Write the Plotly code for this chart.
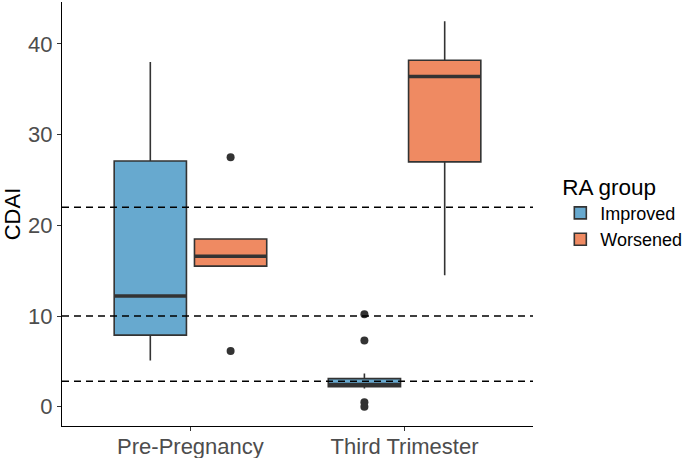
import plotly.graph_objects as go

# ---- data ----
categories = ["Pre-Pregnancy", "Third Trimester"]
groups = ["Improved", "Worsened"]
colors = {"Improved": "#67A9CF", "Worsened": "#EF8A62"}

improved_lower = [5.1, 2.0]
improved_q1 = [7.9, 2.2]
improved_median = [12.2, 2.45]
improved_q3 = [27.1, 3.1]
improved_upper = [38.0, 3.65]
improved_outliers = [[], [10.2, 7.3, 0.5, 0.0]]

worsened_lower = [15.5, 14.5]
worsened_q1 = [15.5, 27.0]
worsened_median = [16.6, 36.4]
worsened_q3 = [18.5, 38.2]
worsened_upper = [18.5, 42.5]
worsened_outliers = [[27.5, 6.15], []]

reference_lines = [2.8, 10, 22]

stats = {
    "Improved": dict(lower=improved_lower, q1=improved_q1, median=improved_median,
                     q3=improved_q3, upper=improved_upper, out=improved_outliers),
    "Worsened": dict(lower=worsened_lower, q1=worsened_q1, median=worsened_median,
                     q3=worsened_q3, upper=worsened_upper, out=worsened_outliers),
}

# ggplot-like dodge
dodge = 0.75
slot = dodge / len(groups)
box_w = slot * 0.9
cat_pos = [i + 1 for i in range(len(categories))]

fig = go.Figure()
font_family = "Liberation Sans, Arial, sans-serif"

for gi, g in enumerate(groups):
    s = stats[g]
    xs = [p - dodge / 2 + slot * (gi + 0.5) for p in cat_pos]
    fig.add_trace(go.Box(
        name=g, x=xs, q1=s["q1"], median=s["median"], q3=s["q3"],
        lowerfence=s["lower"], upperfence=s["upper"],
        width=box_w, whiskerwidth=0, fillcolor=colors[g],
        line=dict(color="#333333", width=1.6), boxpoints=False,
        hoverinfo="skip", showlegend=True,
    ))
    # thicker median lines (ggplot fatten)
    for x, m in zip(xs, s["median"]):
        fig.add_trace(go.Scatter(
            x=[x - box_w / 2, x + box_w / 2], y=[m, m], mode="lines",
            line=dict(color="#333333", width=3.5), showlegend=False, hoverinfo="skip",
        ))
    # outliers
    ox, oy = [], []
    for x, outs in zip(xs, s["out"]):
        for v in outs:
            ox.append(x)
            oy.append(v)
    fig.add_trace(go.Scatter(
        x=ox, y=oy, mode="markers",
        marker=dict(color="#333333", size=8), showlegend=False, hoverinfo="skip",
    ))

for v in reference_lines:
    fig.add_shape(type="line", xref="paper", x0=0, x1=1, yref="y", y0=v, y1=v,
                  line=dict(color="black", width=1.5, dash="7px,5px"), layer="above")

all_vals = (improved_lower + improved_upper + worsened_lower + worsened_upper
            + [v for o in improved_outliers + worsened_outliers for v in o])
lo, hi = min(all_vals), max(all_vals)
span = hi - lo

fig.update_layout(
    width=685, height=458,
    margin=dict(l=62, r=152, t=2, b=32, autoexpand=False),
    paper_bgcolor="white", plot_bgcolor="white",
    boxmode="overlay",
    font=dict(family=font_family, color="black"),
    legend=dict(
        title=dict(text="RA group", font=dict(size=22.5, color="black")),
        font=dict(size=18, color="black"),
        x=1.058, xanchor="left", y=0.505, yanchor="middle",
        tracegroupgap=0, itemwidth=30,
    ),
    xaxis=dict(
        range=[cat_pos[0] - 0.6, cat_pos[-1] + 0.6],
        tickvals=cat_pos, ticktext=categories,
        showline=True, linecolor="black", linewidth=1.2,
        ticks="outside", ticklen=4, tickcolor="#333333", tickwidth=1.2,
        tickfont=dict(size=22, color="#4D4D4D"),
        ticklabelstandoff=-4,
        showgrid=False, zeroline=False, automargin=False,
    ),
    yaxis=dict(
        range=[lo - 0.05 * span, hi + 0.05 * span],
        tickvals=[0, 10, 20, 30, 40],
        showline=True, linecolor="black", linewidth=1.2,
        ticks="outside", ticklen=4, tickcolor="#333333", tickwidth=1.2,
        tickfont=dict(size=22, color="#4D4D4D"),
        title=dict(text="CDAI", font=dict(size=22, color="black"), standoff=6),
        showgrid=False, zeroline=False, automargin=False,
    ),
)

fig.write_html("out.html", config={"displayModeBar": False},
               post_script="document.body.style.margin='0';")
